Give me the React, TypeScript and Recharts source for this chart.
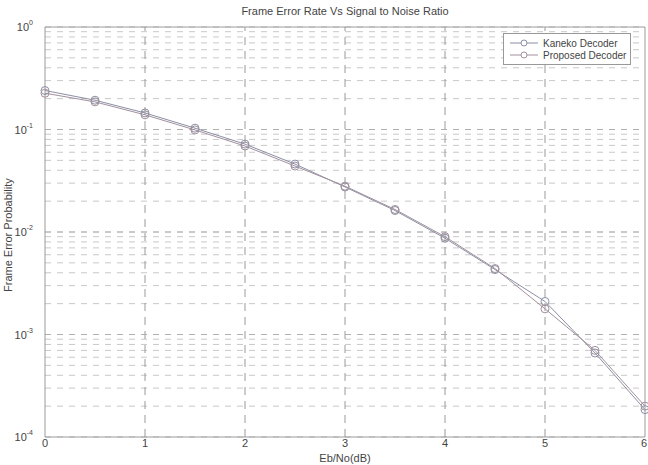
import React from "react";
import { CartesianGrid, Line, LineChart, ReferenceLine, XAxis, YAxis } from "recharts";

const snr = [0, 0.5, 1, 1.5, 2, 2.5, 3, 3.5, 4, 4.5, 5, 5.5, 6];
const kaneko = [0.24, 0.193, 0.145, 0.103, 0.072, 0.046, 0.0275, 0.0162, 0.0087, 0.0043, 0.0021, 0.00066, 0.000185];
const proposed = [0.226, 0.186, 0.139, 0.099, 0.069, 0.044, 0.028, 0.0166, 0.009, 0.0044, 0.00178, 0.0007, 0.0002];

const xTicks = [0, 1, 2, 3, 4, 5, 6];
const decades = [1e-4, 1e-3, 1e-2, 1e-1, 1];

const yTicks: number[] = [];
decades.forEach((d, i) => {
    if (i === decades.length - 1) { yTicks.push(d); return; }
    for (let m = 1; m <= 9; m++) yTicks.push(d * m);
});

const data = snr.map((x, i) => ({ x, kaneko: kaneko[i], proposed: proposed[i] }));

const FONT = "'Liberation Sans', Arial, sans-serif";
const KANEKO_COLOR = "#8a90a6";
const PROPOSED_COLOR = "#a3909c";

const YTick = (props: any) => {
    const { x, y, payload } = props;
    const exp = Math.round(Math.log10(payload.value));
    if (Math.abs(payload.value - Math.pow(10, exp)) > 1e-12) return <g />;
    return (
        <text x={x - 4} y={y + 4} textAnchor="end" fontFamily={FONT} fontSize={11} fill="#444">
            10<tspan dy={-6} fontSize={7}>{exp}</tspan>
        </text>
    );
};

const XTick = (props: any) => {
    const { x, y, payload } = props;
    return (
        <text x={x} y={y + 2} textAnchor="middle" fontFamily={FONT} fontSize={11} fill="#444">
            {payload.value}
        </text>
    );
};

const LegendBox = () => (
    <div style={{ position: "absolute", left: 503, top: 33, border: "1px solid #999", background: "#fff", padding: "3px 6px", fontFamily: FONT, fontSize: 10, color: "#444", whiteSpace: "nowrap", boxSizing: "border-box", width: 128 }}>
        {[["Kaneko Decoder", KANEKO_COLOR], ["Proposed Decoder", PROPOSED_COLOR]].map(([name, c]) => (
            <div key={name} style={{ display: "flex", alignItems: "center", height: 12 }}>
                <svg width={28} height={10} style={{ marginRight: 5, flexShrink: 0 }}>
                    <line x1={0} y1={5} x2={28} y2={5} stroke={c} />
                    <circle cx={14} cy={5} r={3} fill="#fff" stroke={c} />
                </svg>
                {name}
            </div>
        ))}
    </div>
);

const App = () => (
    <div style={{ position: "absolute", left: 0, top: 0, width: 648, height: 465, background: "#fff" }}>
        <LineChart width={648} height={465} data={data} margin={{ top: 27, right: 3, bottom: 0, left: 0 }}>
            <text x={345} y={15} textAnchor="middle" fontFamily={FONT} fontSize={11} fill="#444">
                Frame Error Rate Vs Signal to Noise Ratio
            </text>
            <CartesianGrid stroke="#c8c8c8" strokeDasharray="6 6" vertical={false} />
            <XAxis
                dataKey="x"
                type="number"
                domain={[0, 6]}
                ticks={xTicks}
                tickLine={false}
                stroke="#9a9a9a"
                height={28}
                tick={<XTick />}
                label={{ value: "Eb/No(dB)", position: "insideBottom", offset: 3, fontFamily: FONT, fontSize: 11, fill: "#444" }}
            />
            <YAxis
                scale="log"
                type="number"
                domain={[1e-4, 1]}
                allowDataOverflow
                ticks={yTicks}
                interval={0}
                tickLine={false}
                stroke="#9a9a9a"
                width={45}
                tick={<YTick />}
                label={{ value: "Frame Error Probability", angle: -90, position: "insideLeft", offset: 8, dy: 60, fontFamily: FONT, fontSize: 11, fill: "#444" }}
            />
            {xTicks.slice(1, -1).map((t) => (
                <ReferenceLine key={t} x={t} stroke="#9a9a9a" strokeDasharray="8 6" />
            ))}
            {decades.slice(1, -1).map((d) => (
                <ReferenceLine key={d} y={d} stroke="#b0b0b0" strokeDasharray="6 6" />
            ))}
            <ReferenceLine x={6} stroke="#9a9a9a" />
            <ReferenceLine y={1} stroke="#9a9a9a" />
            <Line
                name="Kaneko Decoder"
                dataKey="kaneko"
                stroke={KANEKO_COLOR}
                strokeWidth={1}
                dot={{ r: 4, fill: "none", stroke: KANEKO_COLOR, strokeWidth: 1 }}
                isAnimationActive={false}
            />
            <Line
                name="Proposed Decoder"
                dataKey="proposed"
                stroke={PROPOSED_COLOR}
                strokeWidth={1}
                dot={{ r: 4, fill: "none", stroke: PROPOSED_COLOR, strokeWidth: 1 }}
                isAnimationActive={false}
            />
        </LineChart>
        <LegendBox />
    </div>
);

export default App;
